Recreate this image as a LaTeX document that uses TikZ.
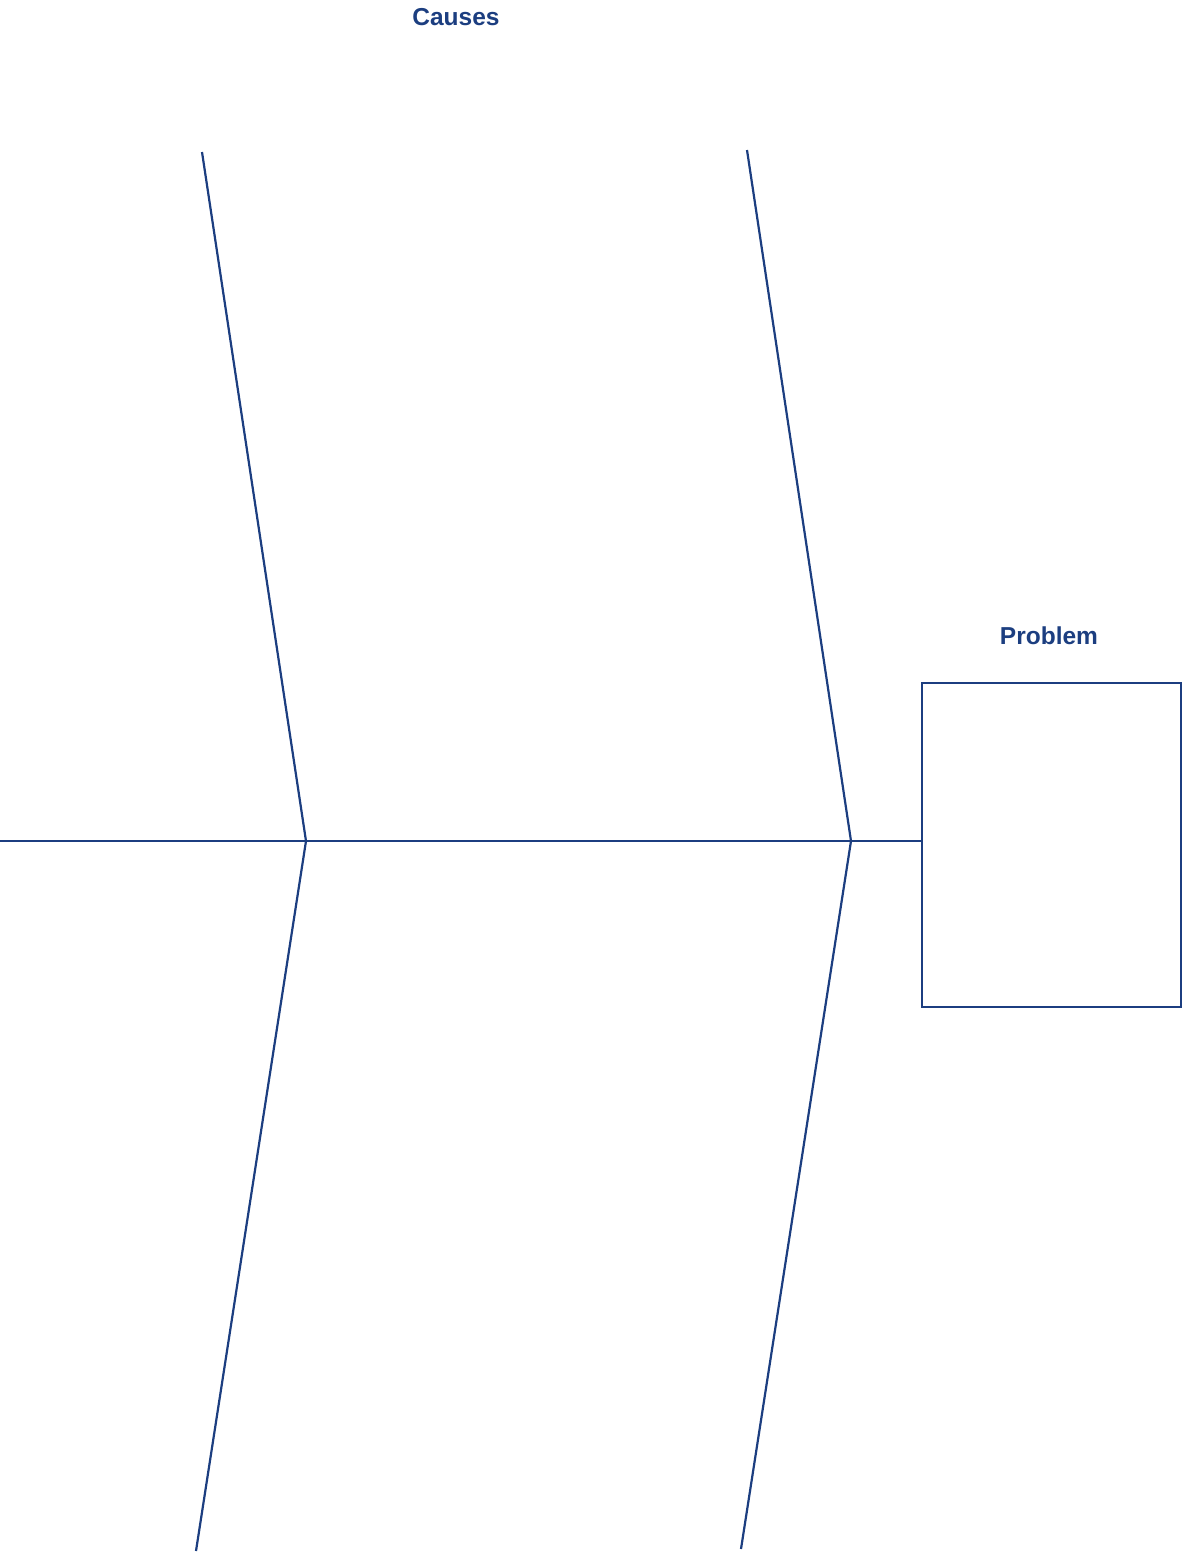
\documentclass[tikz,border=0pt]{standalone}
\usepackage{fontspec}
\setmainfont{Liberation Sans}
\usepackage{xcolor}
\usetikzlibrary{positioning}
\definecolor{fishblue}{RGB}{28,62,128}

\begin{document}
\begin{tikzpicture}[x=1pt, y=-1pt, line width=2.2pt, draw=fishblue]
    \tikzset{
        bone/.style={draw=fishblue, line width=2.2pt},
        lbl/.style={text=fishblue, font=\fontsize{24.5}{29}\selectfont\bfseries, inner sep=0pt, anchor=base}
    }
    \useasboundingbox (0,0) rectangle (1183,1553);
    \node[lbl] (causes) at (456,25) {Causes};
    \node[draw=fishblue, line width=2.2pt, inner sep=0pt, minimum width=259pt, minimum height=324pt] (box) at (1051.5,845) {};
    \node[lbl] (problem) at (1049,644) {Problem};
    \coordinate (tail) at (0,841);
    \coordinate (j1) at (306,841);
    \coordinate (j2) at (851,841);
    \coordinate (b1) at (202,152);
    \coordinate (b2) at (747,150);
    \coordinate (b3) at (196,1551);
    \coordinate (b4) at (741,1549);
    \draw[bone] (tail) -- (tail -| box.west);
    \draw[bone] (b1) -- (j1) -- (b3);
    \draw[bone] (b2) -- (j2) -- (b4);
\end{tikzpicture}
\end{document}
